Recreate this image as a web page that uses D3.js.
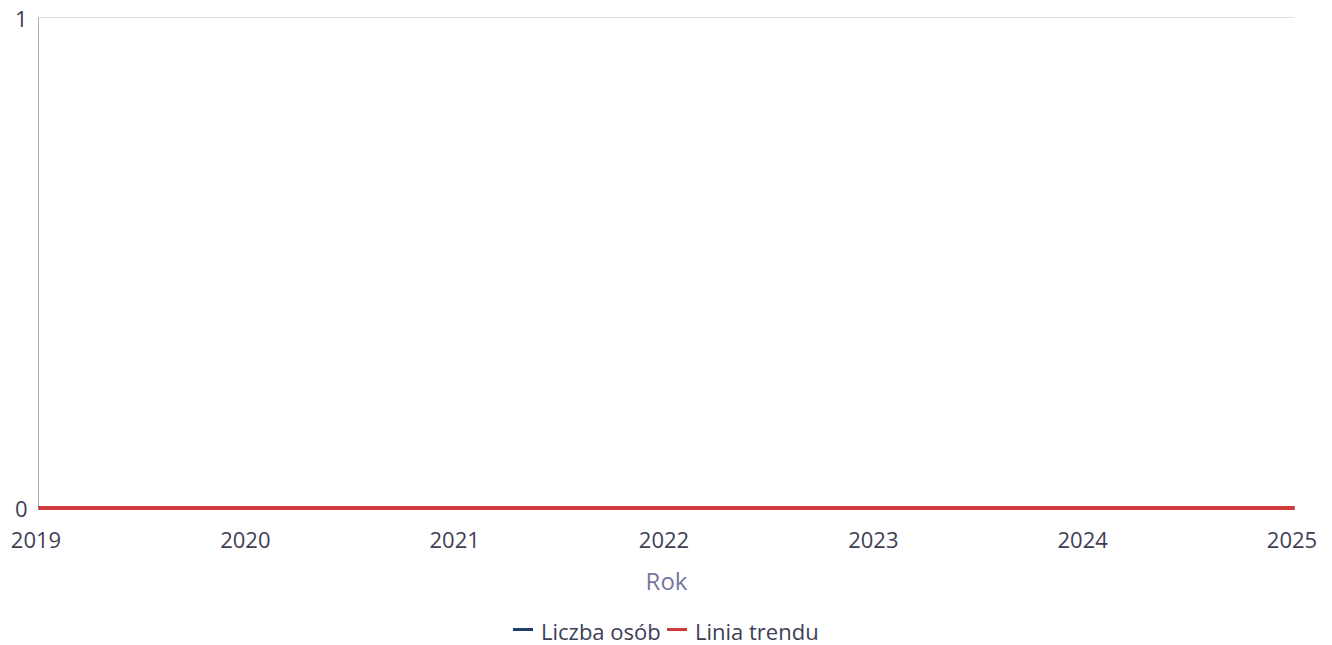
<!DOCTYPE html>
<html><head><meta charset="utf-8">
<script src="https://cdn.jsdelivr.net/npm/d3@7/dist/d3.min.js"></script>
<style>body{margin:0;background:#fff;font-family:"Open Sans",sans-serif;}</style>
</head><body><svg id="c" width="1332" height="645"></svg>
<script>
const years = [2019, 2020, 2021, 2022, 2023, 2024, 2025];
const liczbaOsob = [0, 0, 0, 0, 0, 0, 0];
const liniaTrendu = [0, 0, 0, 0, 0, 0, 0];
const yTicks = [0, 1];
const seriesNames = ["Liczba osób", "Linia trendu"];
const seriesColors = ["#1f3d6e", "#d03a3a"];

const svg = d3.select("#c");
const m = {l: 38.5, r: 1294.5, t: 17.5, b: 508};
const x = d3.scaleLinear().domain([2019, 2025]).range([m.l, m.r]);
const y = d3.scaleLinear().domain([0, 1]).range([m.b, m.t]);

svg.append("g").selectAll("line").data(yTicks.filter(d => d > 0)).join("line")
  .attr("x1", m.l).attr("x2", m.r).attr("y1", d => y(d)).attr("y2", d => y(d))
  .attr("stroke", "#e0e0e6").attr("stroke-width", 1);
svg.append("line").attr("x1", m.l).attr("x2", m.l).attr("y1", m.t).attr("y2", m.b)
  .attr("stroke", "#a9a9c8").attr("stroke-width", 1);

const txt = "#3e3e55";
svg.append("g").selectAll("text").data(yTicks).join("text")
  .attr("x", m.l - 11).attr("y", d => y(d) + 9)
  .attr("text-anchor", "end").attr("font-size", 22).attr("fill", txt)
  .text(d => d);

svg.append("g").selectAll("text").data(years).join("text")
  .attr("x", d => x(d) - 2.5).attr("y", 548).attr("text-anchor", "middle")
  .attr("font-size", 22).attr("fill", txt).text(d => d);

svg.append("text").attr("x", (m.l + m.r) / 2).attr("y", 590).attr("text-anchor", "middle")
  .attr("font-size", 24).attr("fill", "#7676a0").text("Rok");

const line = d3.line().x((d, i) => x(years[i])).y(d => y(d));
svg.append("path").datum(liczbaOsob).attr("d", line).attr("fill", "none")
  .attr("stroke", seriesColors[0]).attr("stroke-width", 4);
svg.append("path").datum(liniaTrendu).attr("d", line).attr("fill", "none")
  .attr("stroke", seriesColors[1]).attr("stroke-width", 4);

const lg = svg.append("g");
const items = [{n: seriesNames[0], c: seriesColors[0], x: 513}, {n: seriesNames[1], c: seriesColors[1], x: 667}];
items.forEach(it => {
  lg.append("line").attr("x1", it.x).attr("x2", it.x + 20).attr("y1", 629.5).attr("y2", 629.5)
    .attr("stroke", it.c).attr("stroke-width", 3);
  lg.append("text").attr("x", it.x + 28).attr("y", 640).attr("font-size", 22).attr("fill", txt).text(it.n);
});
</script></body></html>
